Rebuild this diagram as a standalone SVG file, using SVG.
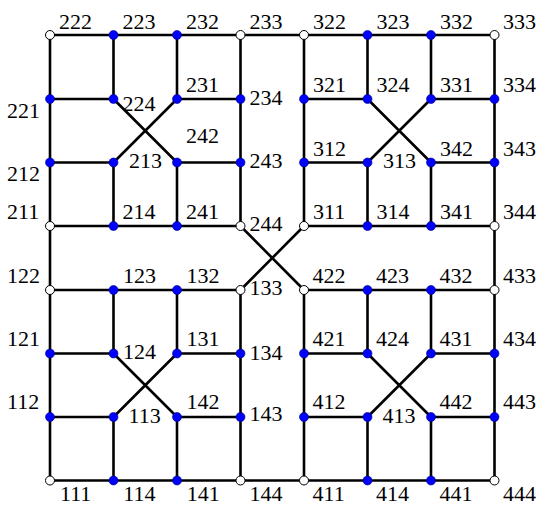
<svg xmlns="http://www.w3.org/2000/svg" width="538" height="505" viewBox="0 0 538 505">
<style>
.e{stroke:#000;stroke-width:2.6;fill:none;stroke-linecap:round}
.b{fill:#0000ff;stroke:#00007a;stroke-width:0.6}
.w{fill:#fff;stroke:#000;stroke-width:1}
text{font-family:"Liberation Serif","Times New Roman",serif;font-size:22px;fill:#000}
</style>
<rect width="538" height="505" fill="#fff"/>
<g id="connectors" class="e">
<path d="M50,35H494.5M50,480.5H494.5M50,226H240.5M304,226H494.5M50,290H240.5M304,290H494.5"/>
<path d="M50,99H113.5M177,99H240.5M304,99H367.5M431,99H494.5"/>
<path d="M50,162.5H113.5M177,162.5H240.5M304,162.5H367.5M431,162.5H494.5"/>
<path d="M50,353.5H113.5M177,353.5H240.5M304,353.5H367.5M431,353.5H494.5"/>
<path d="M50,417H113.5M177,417H240.5M304,417H367.5M431,417H494.5"/>
<path d="M50,35V480.5M494.5,35V480.5M240.5,35V226M240.5,290V480.5M304,35V226M304,290V480.5"/>
<path d="M113.5,35V99M113.5,162.5V226M113.5,290V353.5M113.5,417V480.5"/>
<path d="M177,35V99M177,162.5V226M177,290V353.5M177,417V480.5"/>
<path d="M367.5,35V99M367.5,162.5V226M367.5,290V353.5M367.5,417V480.5"/>
<path d="M431,35V99M431,162.5V226M431,290V353.5M431,417V480.5"/>
<path d="M113.5,99L177,162.5M177,99L113.5,162.5M367.5,99L431,162.5M431,99L367.5,162.5"/>
<path d="M113.5,353.5L177,417M177,353.5L113.5,417M367.5,353.5L431,417M431,353.5L367.5,417"/>
<path d="M240.5,226L304,290M304,226L240.5,290"/>
</g>
<g id="n222"><circle class="w" cx="50" cy="35" r="4.5"/><text x="59" y="28.5">222</text></g>
<g id="n223"><circle class="b" cx="113.5" cy="35" r="4.5"/><text x="122.5" y="28.5">223</text></g>
<g id="n232"><circle class="b" cx="177" cy="35" r="4.5"/><text x="186" y="28.5">232</text></g>
<g id="n233"><circle class="w" cx="240.5" cy="35" r="4.5"/><text x="249.5" y="28.5">233</text></g>
<g id="n322"><circle class="w" cx="304" cy="35" r="4.5"/><text x="313" y="28.5">322</text></g>
<g id="n323"><circle class="b" cx="367.5" cy="35" r="4.5"/><text x="376.5" y="28.5">323</text></g>
<g id="n332"><circle class="b" cx="431" cy="35" r="4.5"/><text x="440" y="28.5">332</text></g>
<g id="n333"><circle class="w" cx="494.5" cy="35" r="4.5"/><text x="503" y="28.5">333</text></g>
<g id="n221"><circle class="b" cx="50" cy="99" r="4.5"/><text x="7" y="117.5">221</text></g>
<g id="n224"><circle class="b" cx="113.5" cy="99" r="4.5"/><text x="122.5" y="111">224</text></g>
<g id="n231"><circle class="b" cx="177" cy="99" r="4.5"/><text x="186" y="92">231</text></g>
<g id="n234"><circle class="b" cx="240.5" cy="99" r="4.5"/><text x="249.5" y="105">234</text></g>
<g id="n321"><circle class="b" cx="304" cy="99" r="4.5"/><text x="313" y="92">321</text></g>
<g id="n324"><circle class="b" cx="367.5" cy="99" r="4.5"/><text x="376.5" y="92">324</text></g>
<g id="n331"><circle class="b" cx="431" cy="99" r="4.5"/><text x="440" y="92">331</text></g>
<g id="n334"><circle class="b" cx="494.5" cy="99" r="4.5"/><text x="503" y="92">334</text></g>
<g id="n212"><circle class="b" cx="50" cy="162.5" r="4.5"/><text x="7" y="181">212</text></g>
<g id="n213"><circle class="b" cx="113.5" cy="162.5" r="4.5"/><text x="129" y="167.5">213</text></g>
<g id="n242"><circle class="b" cx="177" cy="162.5" r="4.5"/><text x="186" y="143">242</text></g>
<g id="n243"><circle class="b" cx="240.5" cy="162.5" r="4.5"/><text x="249.5" y="167.5">243</text></g>
<g id="n312"><circle class="b" cx="304" cy="162.5" r="4.5"/><text x="313" y="155.5">312</text></g>
<g id="n313"><circle class="b" cx="367.5" cy="162.5" r="4.5"/><text x="383" y="167.5">313</text></g>
<g id="n342"><circle class="b" cx="431" cy="162.5" r="4.5"/><text x="440" y="155.5">342</text></g>
<g id="n343"><circle class="b" cx="494.5" cy="162.5" r="4.5"/><text x="503" y="155.5">343</text></g>
<g id="n211"><circle class="w" cx="50" cy="226" r="4.5"/><text x="7" y="218.5">211</text></g>
<g id="n214"><circle class="b" cx="113.5" cy="226" r="4.5"/><text x="122.5" y="218.5">214</text></g>
<g id="n241"><circle class="b" cx="177" cy="226" r="4.5"/><text x="186" y="218.5">241</text></g>
<g id="n244"><circle class="w" cx="240.5" cy="226" r="4.5"/><text x="249.5" y="231">244</text></g>
<g id="n311"><circle class="w" cx="304" cy="226" r="4.5"/><text x="313" y="218.5">311</text></g>
<g id="n314"><circle class="b" cx="367.5" cy="226" r="4.5"/><text x="376.5" y="218.5">314</text></g>
<g id="n341"><circle class="b" cx="431" cy="226" r="4.5"/><text x="440" y="218.5">341</text></g>
<g id="n344"><circle class="w" cx="494.5" cy="226" r="4.5"/><text x="503" y="218.5">344</text></g>
<g id="n122"><circle class="w" cx="50" cy="290" r="4.5"/><text x="7" y="282.5">122</text></g>
<g id="n123"><circle class="b" cx="113.5" cy="290" r="4.5"/><text x="123" y="282.5">123</text></g>
<g id="n132"><circle class="b" cx="177" cy="290" r="4.5"/><text x="186.5" y="282.5">132</text></g>
<g id="n133"><circle class="w" cx="240.5" cy="290" r="4.5"/><text x="249.5" y="295">133</text></g>
<g id="n422"><circle class="w" cx="304" cy="290" r="4.5"/><text x="312.5" y="282.5">422</text></g>
<g id="n423"><circle class="b" cx="367.5" cy="290" r="4.5"/><text x="376" y="282.5">423</text></g>
<g id="n432"><circle class="b" cx="431" cy="290" r="4.5"/><text x="439.5" y="282.5">432</text></g>
<g id="n433"><circle class="w" cx="494.5" cy="290" r="4.5"/><text x="503" y="282.5">433</text></g>
<g id="n121"><circle class="b" cx="50" cy="353.5" r="4.5"/><text x="7" y="346">121</text></g>
<g id="n124"><circle class="b" cx="113.5" cy="353.5" r="4.5"/><text x="123" y="358.5">124</text></g>
<g id="n131"><circle class="b" cx="177" cy="353.5" r="4.5"/><text x="186.5" y="346">131</text></g>
<g id="n134"><circle class="b" cx="240.5" cy="353.5" r="4.5"/><text x="249.5" y="360">134</text></g>
<g id="n421"><circle class="b" cx="304" cy="353.5" r="4.5"/><text x="312.5" y="346">421</text></g>
<g id="n424"><circle class="b" cx="367.5" cy="353.5" r="4.5"/><text x="376" y="346">424</text></g>
<g id="n431"><circle class="b" cx="431" cy="353.5" r="4.5"/><text x="439.5" y="346">431</text></g>
<g id="n434"><circle class="b" cx="494.5" cy="353.5" r="4.5"/><text x="503" y="346">434</text></g>
<g id="n112"><circle class="b" cx="50" cy="417" r="4.5"/><text x="7" y="409">112</text></g>
<g id="n113"><circle class="b" cx="113.5" cy="417" r="4.5"/><text x="128.5" y="423">113</text></g>
<g id="n142"><circle class="b" cx="177" cy="417" r="4.5"/><text x="186.5" y="409">142</text></g>
<g id="n143"><circle class="b" cx="240.5" cy="417" r="4.5"/><text x="249.5" y="421">143</text></g>
<g id="n412"><circle class="b" cx="304" cy="417" r="4.5"/><text x="312.5" y="409">412</text></g>
<g id="n413"><circle class="b" cx="367.5" cy="417" r="4.5"/><text x="382.5" y="423">413</text></g>
<g id="n442"><circle class="b" cx="431" cy="417" r="4.5"/><text x="439.5" y="409">442</text></g>
<g id="n443"><circle class="b" cx="494.5" cy="417" r="4.5"/><text x="503" y="409">443</text></g>
<g id="n111"><circle class="w" cx="50" cy="480.5" r="4.5"/><text x="60" y="501">111</text></g>
<g id="n114"><circle class="b" cx="113.5" cy="480.5" r="4.5"/><text x="123.3" y="501">114</text></g>
<g id="n141"><circle class="b" cx="177" cy="480.5" r="4.5"/><text x="186.7" y="501">141</text></g>
<g id="n144"><circle class="w" cx="240.5" cy="480.5" r="4.5"/><text x="249.5" y="501">144</text></g>
<g id="n411"><circle class="w" cx="304" cy="480.5" r="4.5"/><text x="312.5" y="501">411</text></g>
<g id="n414"><circle class="b" cx="367.5" cy="480.5" r="4.5"/><text x="376" y="501">414</text></g>
<g id="n441"><circle class="b" cx="431" cy="480.5" r="4.5"/><text x="439.5" y="501">441</text></g>
<g id="n444"><circle class="w" cx="494.5" cy="480.5" r="4.5"/><text x="503" y="501">444</text></g>
</svg>
